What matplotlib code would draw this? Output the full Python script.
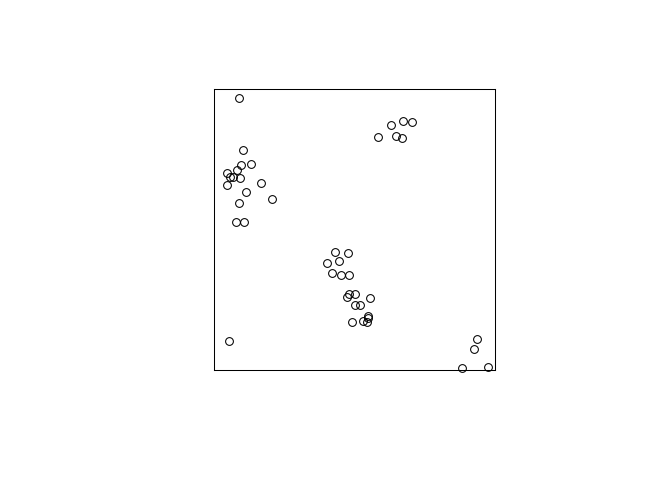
import matplotlib
matplotlib.use("Agg")
import matplotlib.pyplot as plt

# point pattern in the unit square
x = [0.088, 0.103, 0.133, 0.095, 0.081, 0.047, 0.057, 0.067, 0.093, 0.167,
     0.045, 0.114, 0.205, 0.090, 0.078, 0.107,
     0.431, 0.477, 0.401, 0.445, 0.419, 0.451, 0.481, 0.472, 0.481, 0.502,
     0.555, 0.502, 0.520, 0.490, 0.531, 0.549, 0.549, 0.543,
     0.629, 0.672, 0.704, 0.585, 0.648, 0.670,
     0.052, 0.937, 0.924, 0.884, 0.974]
y = [0.969, 0.784, 0.733, 0.728, 0.713, 0.700, 0.686, 0.688, 0.684, 0.667,
     0.658, 0.633, 0.609, 0.593, 0.528, 0.528,
     0.421, 0.417, 0.382, 0.387, 0.344, 0.338, 0.338, 0.261, 0.269, 0.269,
     0.255, 0.231, 0.231, 0.172, 0.174, 0.192, 0.184, 0.172,
     0.872, 0.886, 0.881, 0.830, 0.833, 0.827,
     0.104, 0.109, 0.075, 0.006, 0.012]

fig = plt.figure(figsize=(6.72, 4.8), dpi=100)
ax = fig.add_axes([214/672, 110/480, 281/672, 281/480])
ax.plot(x, y, 'o', mfc='none', mec='black', ms=5.6, mew=0.75, clip_on=False)
ax.set_xlim(0, 1); ax.set_ylim(0, 1)
ax.set_xticks([]); ax.set_yticks([])
for s in ax.spines.values():
    s.set_linewidth(0.75)

fig.savefig('out.png', dpi=100)
